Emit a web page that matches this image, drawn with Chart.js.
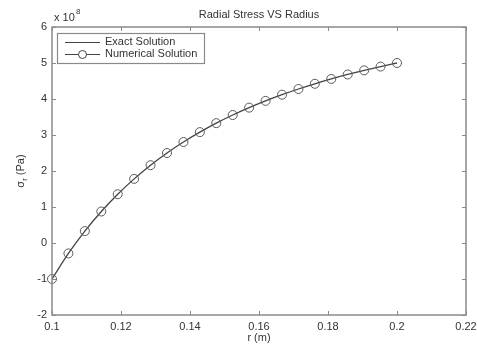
<!DOCTYPE html>
<html>
<head>
<meta charset="utf-8">
<script src="https://cdn.jsdelivr.net/npm/chart.js@4.4.1/dist/chart.umd.min.js"></script>
<style>
  html, body { margin: 0; padding: 0; background: #fff; }
  #wrap { width: 477px; height: 345px; }
</style>
</head>
<body>
<div id="wrap"><canvas id="chart" width="477" height="345"></canvas></div>
<script>
// radio r (m), 22 puntos de 0.1 a 0.2
const radio = [0.1, 0.10476, 0.10952, 0.11429, 0.11905, 0.12381, 0.12857, 0.13333,
  0.13810, 0.14286, 0.14762, 0.15238, 0.15714, 0.16190, 0.16667, 0.17143,
  0.17619, 0.18095, 0.18571, 0.19048, 0.19524, 0.2];
// esfuerzo radial (x 10^8 Pa)
const esfuerzoExacto = [-1.0, -0.29, 0.33, 0.875, 1.355, 1.781, 2.161, 2.5,
  2.805, 3.08, 3.329, 3.555, 3.76, 3.948, 4.12, 4.278,
  4.423, 4.557, 4.681, 4.795, 4.901, 5.0];
const esfuerzoNumerico = [-1.0, -0.29, 0.33, 0.875, 1.355, 1.781, 2.161, 2.5,
  2.805, 3.08, 3.329, 3.555, 3.76, 3.948, 4.12, 4.278,
  4.423, 4.557, 4.681, 4.795, 4.901, 5.0];
const ticksX = [0.1, 0.12, 0.14, 0.16, 0.18, 0.2, 0.22];
const ticksY = [-2, -1, 0, 1, 2, 3, 4, 5, 6];

const titulo = "Radial Stress VS Radius";
const etiquetaX = "r (m)";
const leyenda = ["Exact Solution", "Numerical Solution"];

const fuente = "Liberation Sans, Arial, sans-serif";
const colorEje = "#8a8a8a";
const colorTexto = "#333333";
const colorLinea = "#444444";

const puntos = (ys) => radio.map((x, i) => ({ x: x, y: ys[i] }));

// dibuja caja, marcas hacia adentro, textos y leyenda al estilo matlab
const estiloMatlab = {
  id: "estiloMatlab",
  afterDraw(chart) {
    const ctx = chart.ctx;
    const a = chart.chartArea;
    const sx = chart.scales.x;
    const sy = chart.scales.y;
    ctx.save();
    ctx.strokeStyle = colorEje;
    ctx.lineWidth = 1.5;
    ctx.strokeRect(a.left, a.top, a.right - a.left, a.bottom - a.top);
    ctx.lineWidth = 1;
    ticksX.forEach((t) => {
      const px = Math.round(sx.getPixelForValue(t)) + 0.5;
      ctx.beginPath();
      ctx.moveTo(px, a.bottom); ctx.lineTo(px, a.bottom - 4);
      ctx.moveTo(px, a.top); ctx.lineTo(px, a.top + 4);
      ctx.stroke();
    });
    ticksY.forEach((t) => {
      const py = Math.round(sy.getPixelForValue(t)) + 0.5;
      ctx.beginPath();
      ctx.moveTo(a.left, py); ctx.lineTo(a.left + 4, py);
      ctx.moveTo(a.right, py); ctx.lineTo(a.right - 4, py);
      ctx.stroke();
    });

    // textos
    ctx.fillStyle = colorTexto;
    ctx.font = "11px " + fuente;
    ctx.textAlign = "center";
    ctx.textBaseline = "middle";
    ctx.fillText(titulo, (a.left + a.right) / 2, 15);
    ctx.fillText(etiquetaX, (a.left + a.right) / 2, 338);

    // exponente
    ctx.textAlign = "left";
    ctx.fillText("x 10", 54, 18);
    ctx.font = "8px " + fuente;
    ctx.fillText("8", 76, 12);

    // etiqueta y rotada: sigma_r (Pa)
    ctx.save();
    ctx.translate(21, (a.top + a.bottom) / 2);
    ctx.rotate(-Math.PI / 2);
    ctx.font = "11px " + fuente;
    const w1 = ctx.measureText("\u03c3").width;
    ctx.font = "8px " + fuente;
    const w2 = ctx.measureText("r").width;
    ctx.font = "11px " + fuente;
    const w3 = ctx.measureText(" (Pa)").width;
    let x0 = -(w1 + w2 + w3) / 2;
    ctx.textAlign = "left";
    ctx.fillText("\u03c3", x0, 0);
    ctx.font = "8px " + fuente;
    ctx.fillText("r", x0 + w1, 4);
    ctx.font = "11px " + fuente;
    ctx.fillText(" (Pa)", x0 + w1 + w2, 0);
    ctx.restore();

    // leyenda
    ctx.fillStyle = "#ffffff";
    ctx.fillRect(57, 33, 147, 31);
    ctx.strokeStyle = colorEje;
    ctx.lineWidth = 1.2;
    ctx.strokeRect(57.5, 33.5, 147, 30);
    ctx.strokeStyle = colorLinea;
    ctx.lineWidth = 1;
    ctx.beginPath();
    ctx.moveTo(65, 42.5); ctx.lineTo(100, 42.5);
    ctx.moveTo(65, 54.5); ctx.lineTo(100, 54.5);
    ctx.stroke();
    ctx.beginPath();
    ctx.arc(82.5, 54.5, 4, 0, Math.PI * 2);
    ctx.fillStyle = "#ffffff";
    ctx.fill();
    ctx.stroke();
    ctx.fillStyle = colorTexto;
    ctx.font = "11px " + fuente;
    ctx.textAlign = "left";
    ctx.fillText(leyenda[0], 105, 42);
    ctx.fillText(leyenda[1], 105, 54);
    ctx.restore();
  },
};

const canvas = document.getElementById("chart");
const ctx = canvas.getContext("2d");

const chart = new Chart(ctx, {
  type: "scatter",
  data: {
    datasets: [
      {
        label: leyenda[0],
        data: puntos(esfuerzoExacto),
        showLine: true,
        borderColor: colorLinea,
        borderWidth: 1.3,
        pointRadius: 0,
        cubicInterpolationMode: "monotone",
        order: 2,
      },
      {
        label: leyenda[1],
        data: puntos(esfuerzoNumerico),
        showLine: false,
        borderColor: "#5a5a5a",
        backgroundColor: "rgba(0,0,0,0)",
        borderWidth: 1,
        pointRadius: 4.5,
        pointStyle: "circle",
        clip: false,
        order: 1,
      },
    ],
  },
  options: {
    responsive: false,
    animation: false,
    layout: { padding: { top: 27, right: 11, left: 0, bottom: 0 } },
    plugins: {
      legend: { display: false },
      title: { display: false },
      tooltip: { enabled: false },
    },
    scales: {
      x: {
        type: "linear",
        min: 0.1,
        max: 0.22,
        afterBuildTicks: (s) => { s.ticks = ticksX.map((v) => ({ value: v })); },
        afterFit: (s) => {
          s.height = 30;
          s.paddingLeft = 0;
          s.paddingRight = 0;
        },
        grid: { display: false, drawTicks: false },
        border: { display: false },
        ticks: {
          color: colorTexto,
          font: { family: fuente, size: 11 },
          padding: 5,
          maxRotation: 0,
          callback: (v) => String(+v.toFixed(2)),
        },
      },
      y: {
        type: "linear",
        min: -2,
        max: 6,
        afterBuildTicks: (s) => { s.ticks = ticksY.map((v) => ({ value: v })); },
        afterFit: (s) => {
          s.width = 52;
          s.paddingTop = 0;
          s.paddingBottom = 0;
        },
        grid: { display: false, drawTicks: false },
        border: { display: false },
        ticks: {
          color: colorTexto,
          font: { family: fuente, size: 11 },
          padding: 5,
          callback: (v) => String(v),
        },
      },
    },
  },
  plugins: [estiloMatlab],
});
</script>
</body>
</html>
